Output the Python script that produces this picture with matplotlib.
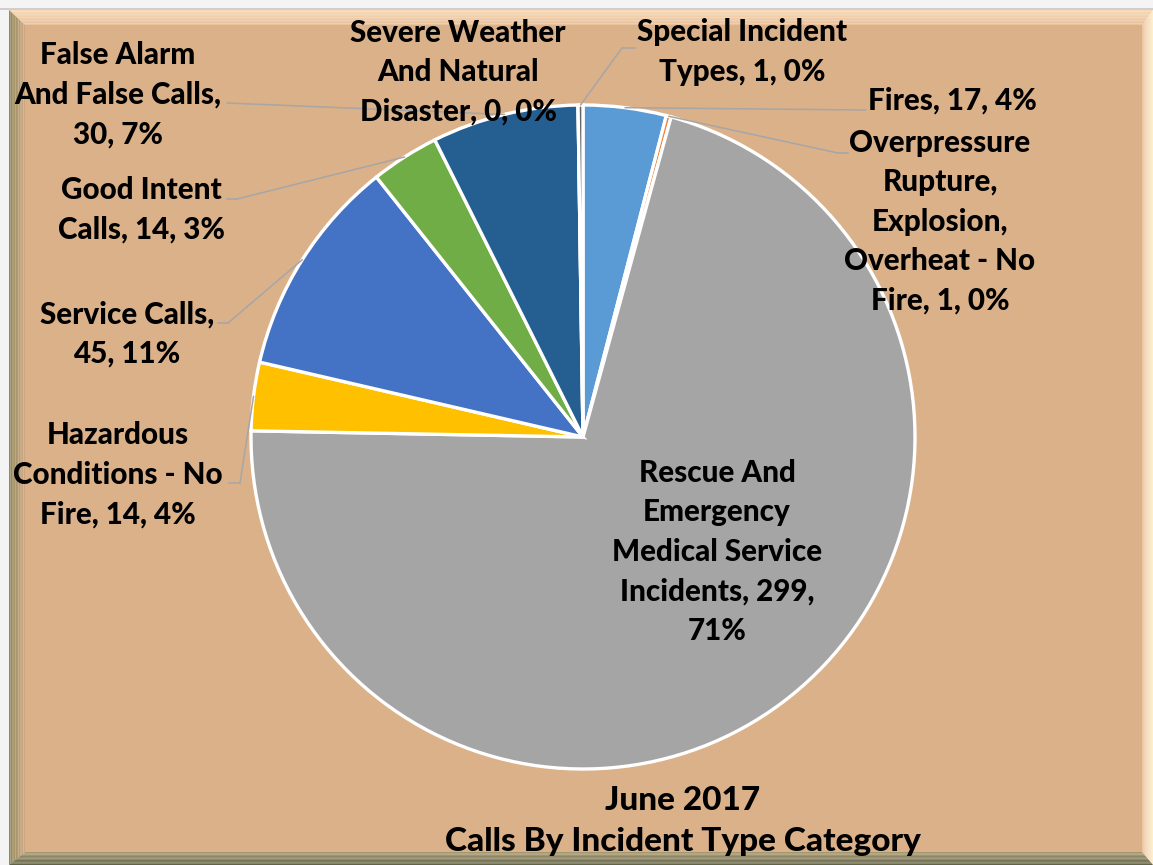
import numpy as np
import matplotlib.pyplot as plt
from matplotlib.patches import Polygon, ConnectionPatch
from matplotlib.colors import to_rgb

plt.rcParams['font.family'] = ['Lato', 'DejaVu Sans']

# data, clockwise from 12 o'clock
categories = ["Fires",
              "Overpressure Rupture, Explosion, Overheat - No Fire",
              "Rescue And Emergency Medical Service Incidents",
              "Hazardous Conditions - No Fire",
              "Service Calls",
              "Good Intent Calls",
              "False Alarm And False Calls",
              "Severe Weather And Natural Disaster",
              "Special Incident Types"]
counts = [17, 1, 299, 14, 45, 14, 30, 0, 1]
percents = [4, 0, 71, 4, 11, 3, 7, 0, 0]
colors = ["#5B9BD5", "#ED7D31", "#A5A5A5", "#FFC000", "#4472C4",
          "#70AD47", "#255E91", "#9E480E", "#636363"]

title = "June 2017\nCalls By Incident Type Category"

W, H = 1153, 865
BG = "#DBB18A"


def label_text(i):
    wrapped = {
        0: "Fires, {v}, {p}%",
        1: "Overpressure\nRupture,\nExplosion,\nOverheat - No\nFire, {v}, {p}%",
        2: "Rescue And\nEmergency\nMedical Service\nIncidents, {v},\n{p}%",
        3: "Hazardous\nConditions - No\nFire, {v}, {p}%",
        4: "Service Calls,\n{v}, {p}%",
        5: "Good Intent\nCalls, {v}, {p}%",
        6: "False Alarm\nAnd False Calls,\n{v}, {p}%",
        7: "Severe Weather\nAnd Natural\nDisaster, {v}, {p}%",
        8: "Special Incident\nTypes, {v}, {p}%",
    }
    return wrapped[i].format(v=counts[i], p=percents[i])


# label placement (pixels): text centre, elbow points of leader line
layout = {
    0: dict(pos=(952, 101), leader=[(866, 110)]),
    1: dict(pos=(940, 222), leader=[(838, 153), (848, 153)]),
    2: dict(pos=(717, 552), leader=None),
    3: dict(pos=(118, 475), leader=[(240, 483), (229, 483)]),
    4: dict(pos=(127, 334), leader=[(228, 323), (218, 323)]),
    5: dict(pos=(141, 210), leader=[(237, 199), (227, 199)]),
    6: dict(pos=(118, 95), leader=[(227, 103)]),
    7: dict(pos=(458, 72), leader=None),
    8: dict(pos=(742, 52), leader=[(622, 48), (635, 48)]),
}

fig = plt.figure(figsize=(W / 100, H / 100), dpi=100, facecolor="#F4F4F4")

# background frame with bevel
bg = fig.add_axes([0, 0, 1, 1], zorder=0)
bg.set_xlim(0, W)
bg.set_ylim(H, 0)
bg.axis("off")

ox0, oy0, ox1, oy1 = 9, 10, W, H
ix0, iy0, ix1, iy1 = 25, 25, 1142, 852
bg.plot([0, W], [9, 9], color="#C8C8C8", lw=1.2)


def bevel(outer, inner, c_out, c_in, n=10):
    c_out, c_in = np.array(to_rgb(c_out)), np.array(to_rgb(c_in))
    for k in range(n):
        t0, t1 = k / n, (k + 1) / n
        pts = []
        for t in (t0, t1):
            pts.append([(o[0] + (i[0] - o[0]) * t, o[1] + (i[1] - o[1]) * t)
                        for o, i in zip(outer, inner)])
        poly = [pts[0][0], pts[0][1], pts[1][1], pts[1][0]]
        col = c_out + (c_in - c_out) * (k + 0.5) / n
        bg.add_patch(Polygon(poly, closed=True, color=col, lw=0))


bg.add_patch(Polygon([(ix0, iy0), (ix1, iy0), (ix1, iy1), (ix0, iy1)], color=BG, lw=0))
bevel([(ox0, oy0), (ox1, oy0)], [(ix0, iy0), (ix1, iy0)], "#F8DAB6", "#E9C29C")
bevel([(ox0, oy1), (ox0, oy0)], [(ix0, iy1), (ix0, iy0)], "#8E8758", "#CFA884")
bevel([(ox1, oy0), (ox1, oy1)], [(ix1, iy0), (ix1, iy1)], "#FFF0CF", "#EBC49C")
bevel([(ox1, oy1), (ox0, oy1)], [(ix1, iy1), (ix0, iy1)], "#5F6045", "#A9996F")

# pie
cx, cy, r = 583, 437, 332
m = 1.05
ax = fig.add_axes([(cx - r * m) / W, 1 - (cy + r * m) / H, 2 * r * m / W, 2 * r * m / H],
                  zorder=1)
wedges, _ = ax.pie(counts, colors=colors, startangle=90, counterclock=False,
                   radius=1, wedgeprops=dict(edgecolor="white", linewidth=2.4))
ax.set_xlim(-m, m)
ax.set_ylim(-m, m)
ax.set_aspect("equal")
ax.axis("off")

# overlay for labels and leader lines
ov = fig.add_axes([0, 0, 1, 1], zorder=2)
ov.set_xlim(0, W)
ov.set_ylim(H, 0)
ov.axis("off")
ov.patch.set_alpha(0)

lead_col = "#A6A6A6"
for i, w in enumerate(wedges):
    lay = layout[i]
    x, y = lay["pos"]
    ov.text(x, y, label_text(i), ha="center", va="center", fontsize=21.3,
            fontweight="black", color="black", linespacing=1.5, zorder=5)
    if lay["leader"]:
        mid = np.deg2rad((w.theta1 + w.theta2) / 2)
        anchor = (np.cos(mid), np.sin(mid))
        pts = lay["leader"]
        con = ConnectionPatch(xyA=anchor, coordsA=ax.transData, xyB=pts[0],
                              coordsB=ov.transData, color=lead_col, lw=1.1, zorder=3)
        ov.add_artist(con)
        if len(pts) > 1:
            ov.plot([p[0] for p in pts], [p[1] for p in pts], color=lead_col,
                    lw=1.1, zorder=3)

ov.text(683, 821, title, ha="center", va="center", fontsize=24,
        fontweight="black", color="black", linespacing=1.52, zorder=5)

fig.savefig("out.png", dpi=100, facecolor=fig.get_facecolor())
